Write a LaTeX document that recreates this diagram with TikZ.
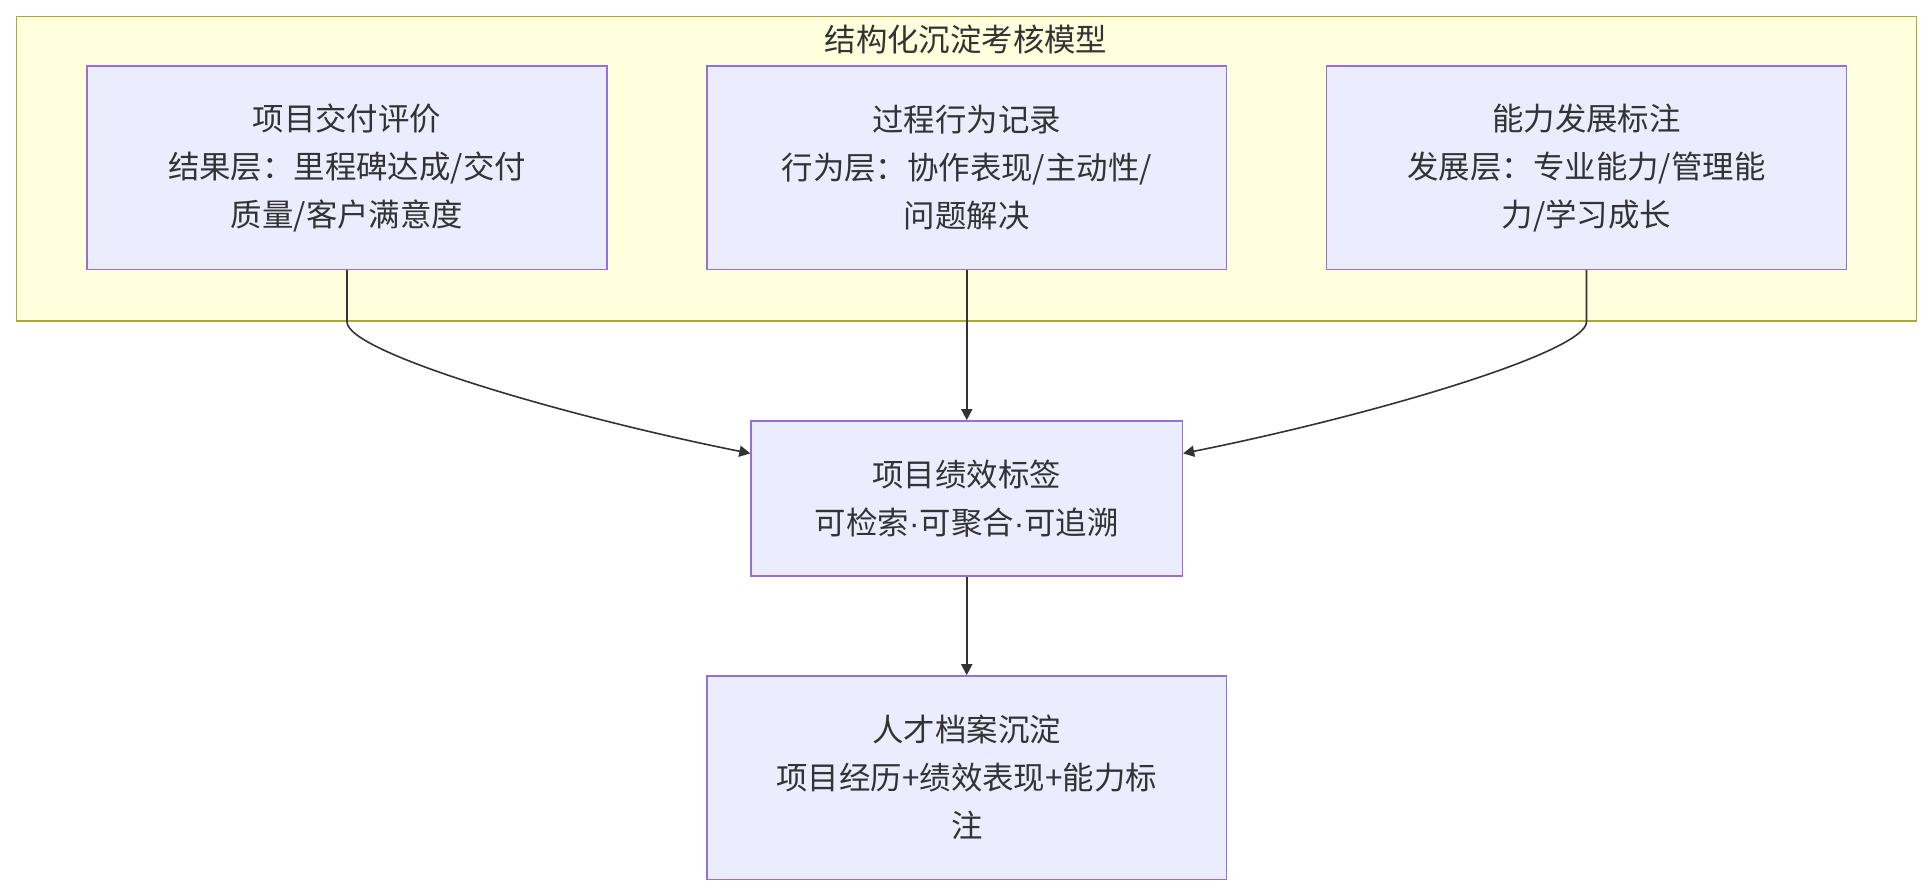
\documentclass[tikz,border=0pt]{standalone}
\usepackage{fontspec}
\setmainfont{Noto Sans CJK SC}
\newfontfamily\latinf{Liberation Sans}
\usetikzlibrary{calc,arrows.meta}
\definecolor{clfill}{HTML}{FFFFDE}
\definecolor{clline}{HTML}{AAAA33}
\definecolor{nfill}{HTML}{ECECFF}
\definecolor{nline}{HTML}{9370DB}
\definecolor{txt}{HTML}{333333}
\newcommand{\md}{{\latinf ·}}
\begin{document}
\begin{tikzpicture}[x=1pt,y=-1pt,
  box/.style={draw=nline,fill=nfill,line width=1.2pt,text=txt,align=center,font=\fontsize{25.5}{39}\selectfont,anchor=north west,inner sep=0pt},
  conn/.style={draw=txt,line width=1.3pt,-{Triangle[length=9pt,width=9pt]}}]
\useasboundingbox (0,0) rectangle (1568,727);
\fill[white] (0,0) rectangle (1568,727);
\node[draw=clline,fill=clfill,line width=1.2pt,anchor=north west,minimum width=1542pt,minimum height=247pt,inner sep=0pt] (cl) at (13,13) {};
\node[text=txt,font=\fontsize{25.5}{39}\selectfont] (t) at (784,32) {结构化沉淀考核模型};
\node[box,minimum width=422pt,minimum height=165pt] (b1) at (70,53) {项目交付评价\\结果层：里程碑达成/交付\\质量/客户满意度};
\node[box,minimum width=422pt,minimum height=165pt] (b2) at (573,53) {过程行为记录\\行为层：协作表现/主动性/\\问题解决};
\node[box,minimum width=422pt,minimum height=165pt] (b3) at (1076,53) {能力发展标注\\发展层：专业能力/管理能\\力/学习成长};
\node[box,minimum width=350pt,minimum height=126pt] (m) at (609,341) {项目绩效标签\\可检索\md 可聚合\md 可追溯};
\node[box,minimum width=422pt,minimum height=165pt] (bt) at (573,548) {人才档案沉淀\\项目经历+绩效表现+能力标\\注};
\coordinate (ml) at ($(m.north west)+(0,27)$);
\coordinate (mr) at ($(m.north east)+(0,27)$);
\draw[conn] (b1.south) -- ++(0,42) .. controls ++(0,25) and ($(ml)+(-150,-30)$) .. (ml);
\draw[conn] (b3.south) -- ++(0,42) .. controls ++(0,25) and ($(mr)+(150,-30)$) .. (mr);
\draw[conn] (b2.south) -- (m.north);
\draw[conn] (m.south) -- (bt.north);
\end{tikzpicture}
\end{document}
